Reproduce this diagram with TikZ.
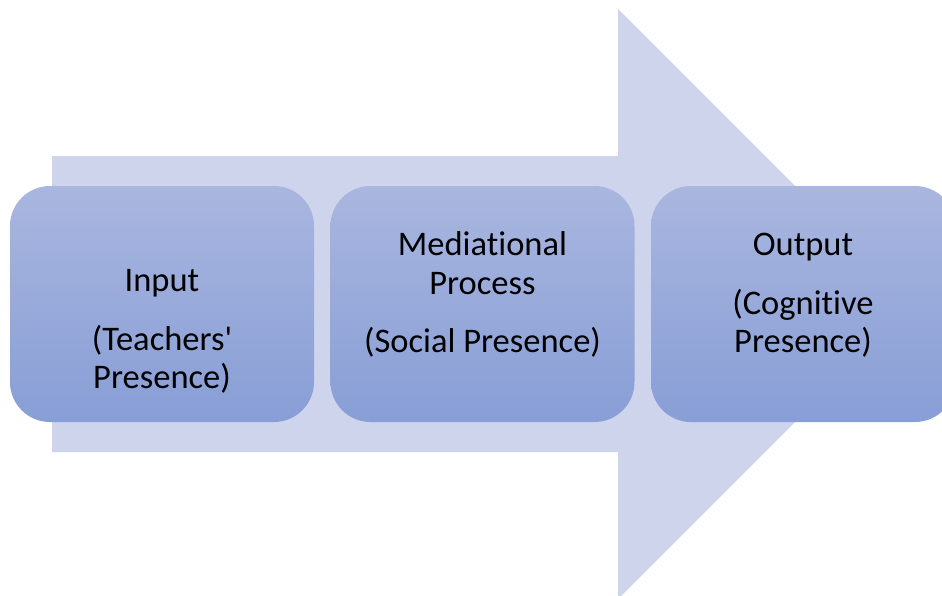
\documentclass[tikz,border=0pt]{standalone}
\usepackage{fontspec}
\setmainfont{Carlito}[Ligatures={NoCommon}]
\definecolor{arrowfill}{HTML}{CDD4EC}
\definecolor{boxtop}{HTML}{A9B6DF}
\definecolor{boxbot}{HTML}{889ED6}
\tikzset{
  stagebox/.style={rectangle, rounded corners=40pt, minimum width=304pt, minimum height=236pt,
    top color=boxtop, bottom color=boxbot, draw=none, inner sep=0pt},
  stagetext/.style={anchor=base, inner sep=0pt, font=\fontsize{34.5}{40}\selectfont, text=black}
}
\begin{document}
\begin{tikzpicture}[x=1pt,y=-1pt]
\path[use as bounding box] (0,0) rectangle (942,595);
\clip (0,0) rectangle (942,595);
% big arrow
\fill[arrowfill] (52,156) -- (618,156) -- (618,9) -- (913,304) -- (618,599) -- (618,452) -- (52,452) -- cycle;
% boxes
\node[stagebox] (b1) at (162,304) {};
\node[stagebox] (b2) at (482.5,304) {};
\node[stagebox] (b3) at (803,304) {};
% texts
\node[stagetext] (t1a) at (162,291) {Input};
\node[stagetext] (t1b) at (162,350) {(Teachers\textquotesingle};
\node[stagetext] (t1c) at (162,388) {Presence)};
\node[stagetext] (t2a) at (482.5,255) {Mediational};
\node[stagetext] (t2b) at (482.5,294) {Process};
\node[stagetext] (t2c) at (482.5,352) {(Social Presence)};
\node[stagetext] (t3a) at (803,255) {Output};
\node[stagetext] (t3b) at (803,314) {(Cognitive};
\node[stagetext] (t3c) at (803,352) {Presence)};
\end{tikzpicture}
\end{document}
